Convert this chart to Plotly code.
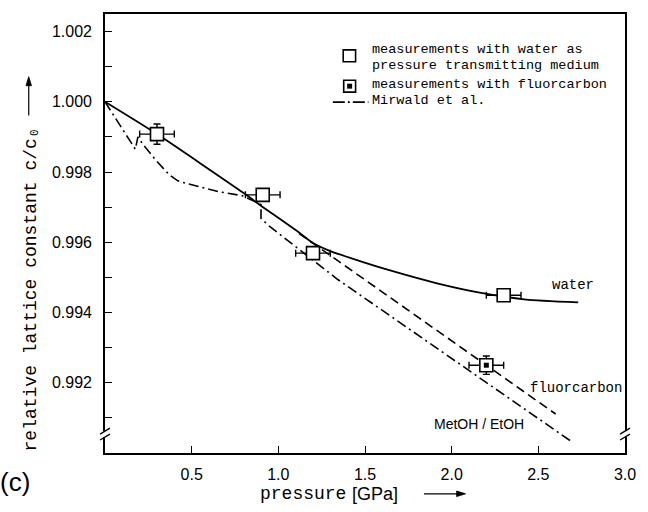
import plotly.graph_objects as go

# ---------------- data ----------------
water_p = [0.30, 0.91, 1.20, 2.30]
water_c = [0.99908, 0.99735, 0.99569, 0.99449]
water_p_err = [0.10, 0.10, 0.10, 0.10]
water_c_err = [0.00029, 0.0, 0.0, 0.0]

fluor_p = [2.20]
fluor_c = [0.99250]
fluor_p_err = [0.10]
fluor_c_err = [0.00026]

water_curve_p = [0.0, 0.30, 0.80, 0.92, 1.10, 1.20, 1.30, 1.48, 1.63, 1.91, 2.17, 2.43, 2.73]
water_curve_c = [1.0, 0.99908, 0.99740, 0.99697, 0.99635, 0.99598, 0.99575, 0.99545,
                 0.99522, 0.99484, 0.99456, 0.99437, 0.99429]

fluor_curve_p = [1.12, 2.60]
fluor_curve_c = [0.99625, 0.99111]

mirwald_p = [0.0, 0.175, 0.19, 0.22, 0.30, 0.371, 0.42, 0.467, 0.657, 0.79, 0.886,
             0.90, 0.90, 0.95, 1.343, 2.69]
mirwald_c = [1.0, 0.99865, 0.99900, 0.99878, 0.99830, 0.99792, 0.99775, 0.99768,
             0.99744, 0.99733, 0.99711, 0.99707, 0.99668, 0.99645, 0.99494, 0.99033]

x_tickvals = [0.5, 1.0, 1.5, 2.0, 2.5, 3.0]
x_ticktext = ["0.5", "1.0", "1.5", "2.0", "2.5", "3.0"]
y_tickvals = [0.992, 0.994, 0.996, 0.998, 1.000, 1.002]
y_ticktext = ["0.992", "0.994", "0.996", "0.998", "1.000", "1.002"]

# ---------------- layout geometry ----------------
W, H = 648, 512
ML, MR, MT, MB = 105, 18, 12, 59
PW, PH = W - ML - MR, H - MT - MB

def px(x):
    return (x - ML) / PW

def py(y):
    return (H - MB - y) / PH

MONO = "Liberation Mono, DejaVu Sans Mono"
SANS = "Liberation Sans"

fig = go.Figure()

fig.add_trace(go.Scatter(x=water_curve_p, y=water_curve_c, mode="lines",
                         line=dict(color="black", width=1.8, shape="spline", smoothing=0.5),
                         showlegend=False, hoverinfo="skip"))
fig.add_trace(go.Scatter(x=fluor_curve_p, y=fluor_curve_c, mode="lines",
                         line=dict(color="black", width=1.6, dash="9px,5px"),
                         showlegend=False, hoverinfo="skip"))
fig.add_trace(go.Scatter(x=mirwald_p, y=mirwald_c, mode="lines",
                         line=dict(color="black", width=1.6, dash="10px,4px,2px,4px"),
                         showlegend=False, hoverinfo="skip"))

fig.add_trace(go.Scatter(
    x=water_p, y=water_c, mode="markers",
    marker=dict(symbol="square", size=13, color="white", line=dict(color="black", width=1.6)),
    error_x=dict(type="data", array=water_p_err, color="black", thickness=1.4, width=3.5),
    error_y=dict(type="data", array=water_c_err, color="black", thickness=1.4, width=3.5),
    showlegend=False))
fig.add_trace(go.Scatter(
    x=fluor_p, y=fluor_c, mode="markers",
    marker=dict(symbol="square", size=13, color="white", line=dict(color="black", width=1.6)),
    error_x=dict(type="data", array=fluor_p_err, color="black", thickness=1.4, width=3.5),
    error_y=dict(type="data", array=fluor_c_err, color="black", thickness=1.4, width=3.5),
    showlegend=False))
fig.add_trace(go.Scatter(
    x=fluor_p, y=fluor_c, mode="markers",
    marker=dict(symbol="square", size=5, color="black"),
    showlegend=False))

shapes = []
annotations = []

# legend (manual)
shapes.append(dict(type="rect", xref="paper", yref="paper",
                   x0=px(345.5), x1=px(358), y0=py(60), y1=py(48),
                   line=dict(color="black", width=1.6), fillcolor="white"))
shapes.append(dict(type="rect", xref="paper", yref="paper",
                   x0=px(346), x1=px(358), y0=py(90.5), y1=py(78.5),
                   line=dict(color="black", width=1.6), fillcolor="white"))
shapes.append(dict(type="rect", xref="paper", yref="paper",
                   x0=px(349.5), x1=px(354.5), y0=py(87), y1=py(82),
                   line=dict(color="black", width=0), fillcolor="black"))
shapes.append(dict(type="line", xref="paper", yref="paper",
                   x0=px(335), x1=px(371), y0=py(100.5), y1=py(100.5),
                   line=dict(color="black", width=1.6, dash="12px,3px,2px,3px")))
for txt, yc in [("measurements with water as", 47.5),
                ("pressure transmitting medium", 63.5),
                ("measurements with fluorcarbon", 82.5),
                ("Mirwald et al.", 98.5)]:
    annotations.append(dict(text=txt, xref="paper", yref="paper", x=px(374), y=py(yc),
                            xanchor="left", yanchor="middle", showarrow=False, borderpad=0,
                            font=dict(family=MONO, size=13.5, color="black")))

# curve labels
annotations.append(dict(text="water", x=2.70, y=0.99479, xanchor="center", yanchor="middle",
                        showarrow=False, font=dict(family=MONO, size=14, color="black")))
annotations.append(dict(text="fluorcarbon", x=2.72, y=0.99186, xanchor="center", yanchor="middle",
                        showarrow=False, font=dict(family=MONO, size=14, color="black")))
annotations.append(dict(text="MetOH / EtOH", x=2.157, y=0.99082, xanchor="center", yanchor="middle",
                        showarrow=False, font=dict(family=SANS, size=14, color="black")))

# axis titles
annotations.append(dict(text="relative lattice constant c/c\u2080", xref="paper", yref="paper",
                        x=px(30), y=py(289), textangle=-90, xanchor="center", yanchor="middle",
                        showarrow=False, font=dict(family=MONO, size=18, color="black")))
annotations.append(dict(text="pressure", xref="paper", yref="paper", x=px(259), y=py(494),
                        xanchor="left", yanchor="middle", showarrow=False,
                        font=dict(family=MONO, size=18, color="black")))
annotations.append(dict(text="[GPa]", xref="paper", yref="paper", x=px(352), y=py(494),
                        xanchor="left", yanchor="middle", showarrow=False,
                        font=dict(family=SANS, size=18, color="black")))
annotations.append(dict(text="(c)", xref="paper", yref="paper", x=px(14), y=py(482),
                        xanchor="center", yanchor="middle", showarrow=False,
                        font=dict(family=SANS, size=26, color="black")))

# title arrows (line + small head)
shapes.append(dict(type="line", xref="paper", yref="paper",
                   x0=px(28), x1=px(28), y0=py(114), y1=py(82),
                   line=dict(color="black", width=1.2)))
shapes.append(dict(type="path", xref="paper", yref="paper",
                   path="M %f,%f L %f,%f L %f,%f Z" % (px(28), py(75), px(25.2), py(84), px(30.8), py(84)),
                   line=dict(color="black", width=0.8), fillcolor="black"))
shapes.append(dict(type="line", xref="paper", yref="paper",
                   x0=px(427), x1=px(462), y0=py(494), y1=py(494),
                   line=dict(color="black", width=1.2)))
shapes.append(dict(type="path", xref="paper", yref="paper",
                   path="M %f,%f L %f,%f L %f,%f Z" % (px(469), py(494), px(460), py(491.2), px(460), py(496.8)),
                   line=dict(color="black", width=0.8), fillcolor="black"))

# axis break marks
for xb in (ML, ML + PW):
    shapes.append(dict(type="rect", xref="paper", yref="paper",
                       x0=px(xb - 2), x1=px(xb + 2), y0=py(437), y1=py(431),
                       line=dict(width=0), fillcolor="white"))
    for yb in (431, 437):
        shapes.append(dict(type="line", xref="paper", yref="paper",
                           x0=px(xb - 5), x1=px(xb + 5), y0=py(yb + 3), y1=py(yb - 3),
                           line=dict(color="black", width=1.3)))

fig.update_layout(
    width=W, height=H,
    margin=dict(l=ML, r=MR, t=MT, b=MB),
    paper_bgcolor="white", plot_bgcolor="white",
    showlegend=False,
    shapes=shapes, annotations=annotations,
    font=dict(family=SANS, size=16, color="black"),
)
fig.update_xaxes(range=[0, 3.0], tickmode="array", tickvals=x_tickvals, ticktext=x_ticktext,
                 ticks="inside", ticklen=7, tickwidth=1.3, tickcolor="black",
                 showline=True, linecolor="black", linewidth=1.6, mirror=True,
                 showgrid=False, zeroline=False, ticklabelstandoff=6,
                 tickfont=dict(family=SANS, size=16, color="black"))
fig.update_yaxes(range=[0.990, 1.0025], tickmode="array", tickvals=y_tickvals, ticktext=y_ticktext,
                 ticks="inside", ticklen=7, tickwidth=1.3, tickcolor="black",
                 minor=dict(tickvals=[0.991, 0.993, 0.995, 0.997, 0.999, 1.001],
                            ticks="inside", ticklen=7, tickwidth=1.3, tickcolor="black",
                            showgrid=False),
                 showline=True, linecolor="black", linewidth=1.6, mirror=True,
                 showgrid=False, zeroline=False, ticklabelstandoff=8,
                 tickfont=dict(family=SANS, size=16, color="black"))

fig.write_html("out.html")
